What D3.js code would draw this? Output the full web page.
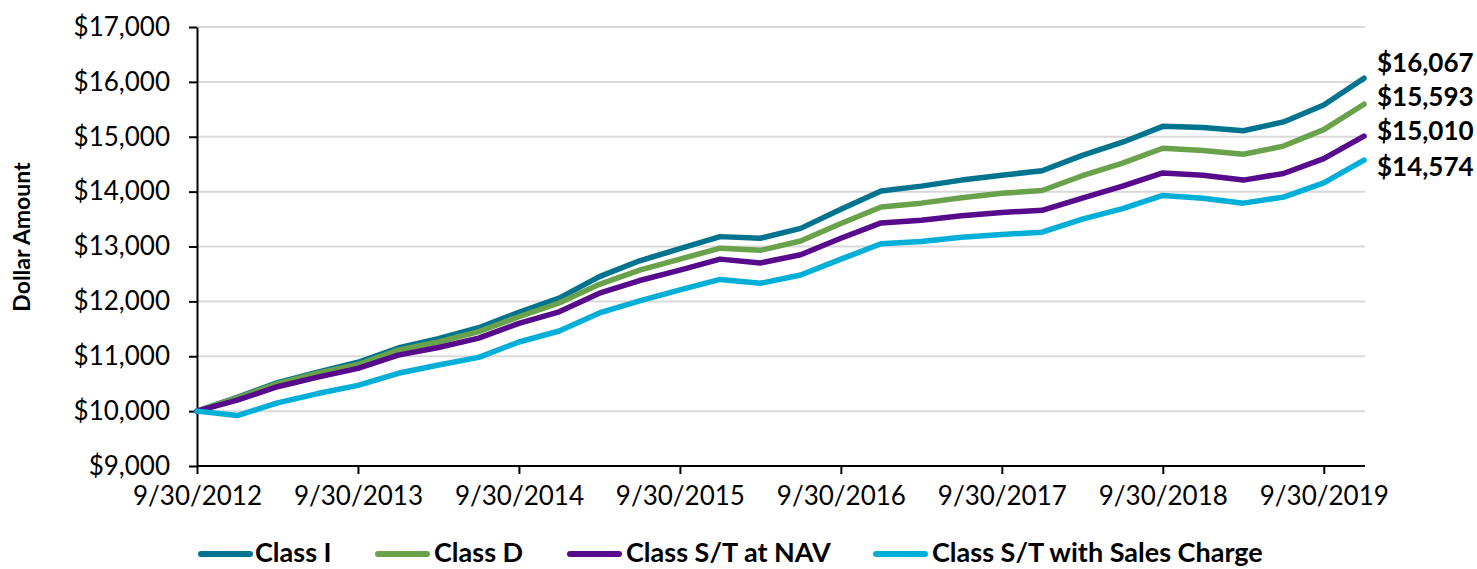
<!DOCTYPE html>
<html>
<head>
<meta charset="utf-8">
<script src="https://cdn.jsdelivr.net/npm/d3@7"></script>
<style>
  html, body { margin: 0; padding: 0; background: #fff; }
  svg { display: block; font-family: Lato, "Open Sans", sans-serif; }
</style>
</head>
<body>
<svg id="chart" width="1477" height="569"></svg>
<script>
// Quarter-end dates (categories)
const dates = [
  "9/30/2012","12/31/2012","3/31/2013","6/30/2013",
  "9/30/2013","12/31/2013","3/31/2014","6/30/2014",
  "9/30/2014","12/31/2014","3/31/2015","6/30/2015",
  "9/30/2015","12/31/2015","3/31/2016","6/30/2016",
  "9/30/2016","12/31/2016","3/31/2017","6/30/2017",
  "9/30/2017","12/31/2017","3/31/2018","6/30/2018",
  "9/30/2018","12/31/2018","3/31/2019","6/30/2019",
  "9/30/2019","12/31/2019"
];
const classI = [10000,10250,10520,10710,10890,11150,11320,11520,11800,12060,12450,12740,12960,13180,13150,13330,13680,14010,14100,14210,14300,14380,14660,14900,15190,15170,15110,15270,15580,16067];
const classD = [10000,10240,10500,10690,10850,11110,11260,11450,11720,11970,12310,12570,12770,12970,12930,13100,13420,13720,13790,13890,13970,14020,14290,14520,14790,14750,14680,14830,15130,15593];
const classSTNav = [10000,10200,10445,10620,10780,11020,11160,11330,11600,11810,12150,12380,12570,12770,12700,12850,13150,13430,13480,13560,13620,13660,13880,14100,14340,14300,14210,14330,14600,15010];
const classSTSales = [10000,9920,10150,10320,10470,10690,10840,10980,11260,11460,11790,12010,12210,12400,12330,12480,12770,13050,13090,13170,13220,13260,13500,13690,13930,13880,13790,13900,14160,14574];
const seriesNames = ["Class I","Class D","Class S/T at NAV","Class S/T with Sales Charge"];
const seriesColors = ["#00748f","#6aa24c","#570a8c","#00afd8"];
const yTicks = [9000,10000,11000,12000,13000,14000,15000,16000,17000];
const xTickLabels = ["9/30/2012","9/30/2013","9/30/2014","9/30/2015","9/30/2016","9/30/2017","9/30/2018","9/30/2019"];
const yTitle = "Dollar Amount";

const allSeries = [classI, classD, classSTNav, classSTSales];
const svg = d3.select("#chart");

const x = d3.scaleLinear().domain([0, dates.length - 1]).range([197, 1364]);
const y = d3.scaleLinear().domain([9000, 17000]).range([466, 27]);
const money = v => "$" + d3.format(",")(v);

// gridlines
svg.append("g").selectAll("line").data(yTicks.filter(t => t > 9000)).join("line")
  .attr("x1", 197).attr("x2", 1365)
  .attr("y1", d => y(d)).attr("y2", d => y(d))
  .attr("stroke", "#d9d9d9").attr("stroke-width", 2);

// y axis
const yAxis = d3.axisLeft(y).tickValues(yTicks).tickFormat(money).tickSize(8).tickSizeOuter(0);
const gy = svg.append("g").attr("transform", "translate(197,0)").call(yAxis);
gy.select(".domain").attr("stroke", "#000").attr("stroke-width", 2);
gy.selectAll(".tick line").attr("stroke", "#000").attr("stroke-width", 2);
gy.selectAll(".tick text").attr("x", -27).attr("font-size", 26).attr("fill", "#000")
  .attr("font-family", "Lato, sans-serif");

// x axis
const xTickIdx = xTickLabels.map(l => dates.indexOf(l));
const xAxis = d3.axisBottom(x).tickValues(xTickIdx).tickFormat(i => dates[i]).tickSize(8).tickSizeOuter(0);
const gx = svg.append("g").attr("transform", "translate(0,466)").call(xAxis);
gx.select(".domain").attr("stroke", "#000").attr("stroke-width", 2).attr("d", "M197,0H1365");
gx.selectAll(".tick line").attr("stroke", "#000").attr("stroke-width", 2);
gx.selectAll(".tick text").attr("y", 21).attr("font-size", 26).attr("fill", "#000")
  .attr("font-family", "Lato, sans-serif");

// y title
svg.append("text")
  .attr("transform", "translate(30,237) rotate(-90)")
  .attr("text-anchor", "middle")
  .attr("font-size", 23).attr("font-weight", "bold").attr("fill", "#000")
  .text(yTitle);

// lines
const line = d3.line().x((d, i) => x(i)).y(d => y(d));
allSeries.forEach((s, k) => {
  svg.append("path").datum(s)
    .attr("d", line)
    .attr("fill", "none")
    .attr("stroke", seriesColors[k])
    .attr("stroke-width", 5.5)
    .attr("stroke-linejoin", "round")
    .attr("stroke-linecap", "round");
});

// end labels
const endLabelY = [63, 97, 131, 167];
allSeries.forEach((s, k) => {
  svg.append("text")
    .attr("x", 1377).attr("y", endLabelY[k]).attr("dy", "0.35em")
    .attr("font-size", 26).attr("font-weight", "bold").attr("fill", "#000")
    .text(money(s[s.length - 1]));
});

// legend
const legendLineX = [198, 375, 567, 873];
const legendTextX = [255, 434, 626, 932];
const lg = svg.append("g");
seriesNames.forEach((n, k) => {
  lg.append("line")
    .attr("x1", legendLineX[k] + 3).attr("x2", legendLineX[k] + 52)
    .attr("y1", 554).attr("y2", 554)
    .attr("stroke", seriesColors[k]).attr("stroke-width", 6).attr("stroke-linecap", "round");
  lg.append("text")
    .attr("x", legendTextX[k]).attr("y", 562)
    .attr("font-size", 27).attr("font-weight", "bold").attr("fill", "#000")
    .text(n);
});
</script>
</body>
</html>
